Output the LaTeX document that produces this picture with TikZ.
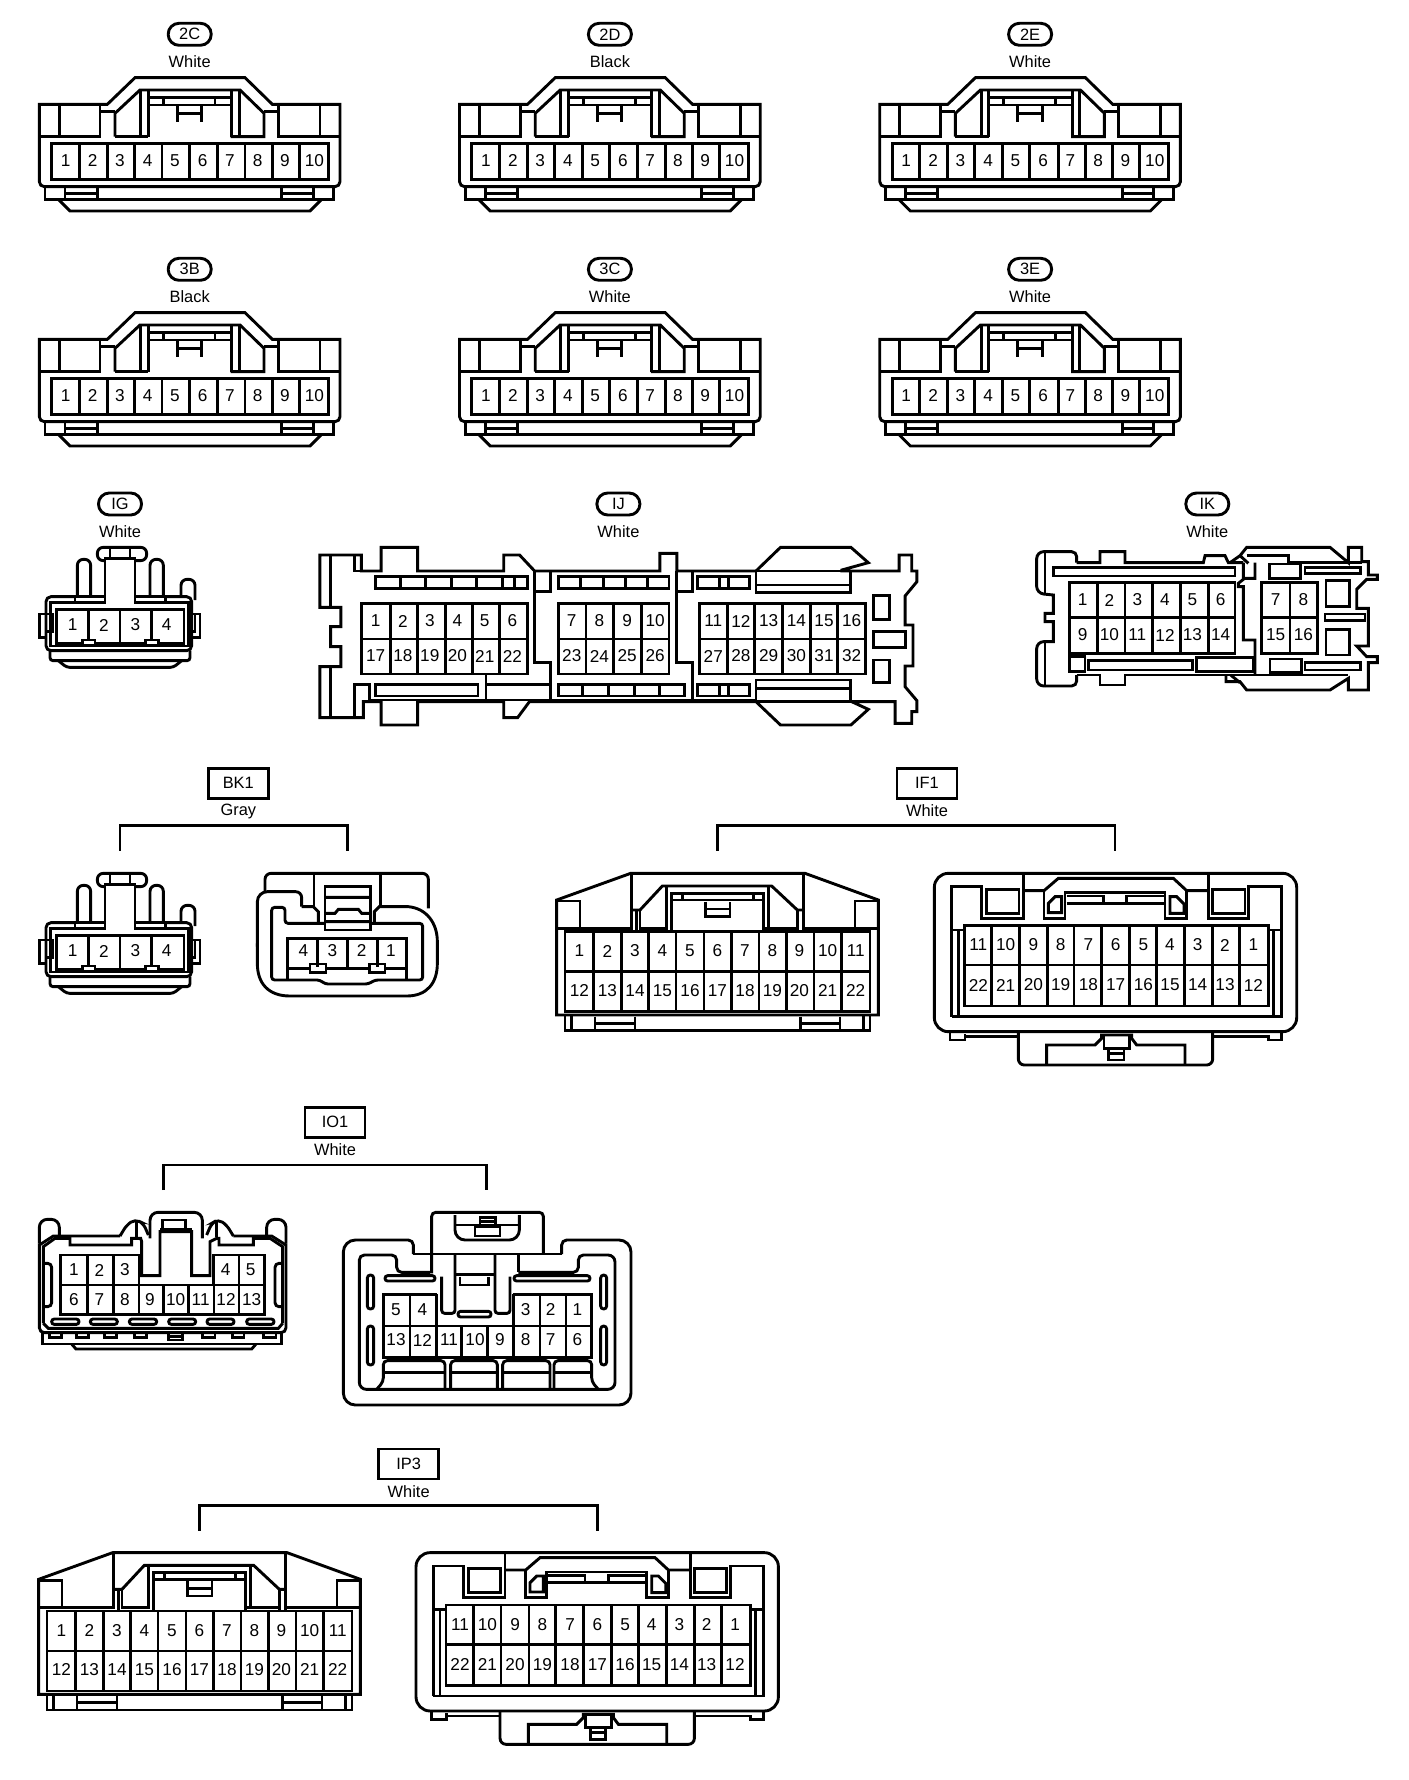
\documentclass[tikz,border=0pt]{standalone}
\usepackage{fontspec}
\setmainfont{Liberation Sans}
\newcommand{\pinrow}[2]{\foreach \x/\t in {#2}{\node[pinlab] (p\t) at (\x,#1) {\t};}}
\newcommand{\vbars}[3]{\foreach \x in {#3}{\draw (\x,#1) -- (\x,#2);}}
\newcommand{\conlabel}[6]{% name, style, x, y, id, colour
  \node[#2] (#1) at (#3,#4) {#5};
  \node[collab] (#1col) at (#3,#4+27.7) {#6};}
\newcommand{\bracket}[5]{% name,x1,x2,top,bottom
  \coordinate (#1l) at (#2,#5); \coordinate (#1r) at (#3,#5);
  \draw[line cap=butt] (#1l) -- (#2,#4) -- (#3,#4) -- (#1r);}
\tikzset{
  zm/.style={x=0.166667pt,y=-0.166667pt},
  zmij/.style={x=0.1977pt,y=-0.166667pt},
  pinlab/.style={font=\fontsize{8.6}{10}\selectfont,inner sep=0pt},
  collab/.style={font=\fontsize{8.2}{10}\selectfont,inner sep=0pt},
  pill/.style={draw,rounded corners=5.4pt,minimum width=21.5pt,minimum height=11pt,inner sep=0pt,font=\fontsize{8.2}{10}\selectfont},
  sqbox/.style={draw,minimum width=30pt,minimum height=15pt,inner sep=0pt,font=\fontsize{8.2}{10}\selectfont},
  pics/tenpin/.style={code={\begin{scope}[zm]
    \draw (58,283) -- (262,283) -- (345,203) -- (675,203) -- (757,283) -- (960,283) [rounded corners=2.5pt] -- (960,530) -- (58,530) [sharp corners] -- (58,283) -- cycle;
    \draw (118,283) -- (118,380) (58,380) -- (240,380) -- (240,283);
    \draw (243,305) -- (285,305);
    \draw (285,380) -- (285,310) -- (360,240) -- (660,240) -- (732,310) -- (732,380) -- (632,380);
    \draw (285,380) -- (385,380);
    \draw (362,240) -- (362,380) (385,240) -- (385,380);
    \draw (635,240) -- (635,380) (658,240) -- (658,380);
    \draw (732,305) -- (775,305) (775,283) -- (775,380) -- (960,380) (900,283) -- (900,380);
    \draw (385,262) -- (635,262) (385,285) -- (635,285) (430,262) -- (430,285) (585,262) -- (585,285);
    \draw (472,285) -- (472,335) (545,285) -- (545,335) (472,310) -- (545,310);
    \draw (95,400) rectangle (925,508);
    \vbars{400}{508}{178,262,343,426,508,593,675,757,838}
    \pinrow{452}{137/1,218/2,300/3,383/4,465/5,548/6,630/7,713/8,795/9,883/10}
    \draw (75,530) -- (75,568) -- (940,568) -- (940,530);
    \draw (135,535) -- (135,568) (232,535) -- (232,568) (135,550) -- (232,550);
    \draw (785,535) -- (785,568) (880,535) -- (880,568) (785,550) -- (880,550);
    \draw (115,568) -- (150,603) -- (870,603) -- (905,568);
  \end{scope}}},
  pics/fourpin/.style={code={\begin{scope}[zm]
    \draw[rounded corners=2.5pt] (78,320) -- (78,482) -- (515,482) -- (515,320) -- cycle;
    \draw (92,338) -- (92,468) -- (505,468) -- (505,338) -- cycle;
    \draw[rounded corners=1.5pt] (90,482) -- (90,512) -- (510,512) -- (510,482);
    \draw[rounded corners=1.5pt] (115,512) -- (140,532) -- (460,532) -- (485,512);
    \draw[rounded corners=3pt,fill=white] (232,172) rectangle (380,212);
    \draw (270,172) -- (270,205) (330,172) -- (330,205);
    \fill[white] (258,310) rectangle (342,346);
    \draw[fill=white] (255,338) -- (255,205) -- (345,205) -- (345,338);
    \fill[white] (260,310) rectangle (340,346);
    \draw[rounded corners=3pt] (172,320) -- (172,208) -- (212,208) -- (212,320);
    \draw[rounded corners=3pt] (390,320) -- (390,208) -- (430,208) -- (430,320);
    \draw[fill=white] (165,320) rectangle (255,338) (345,320) rectangle (437,338);
    \draw[rounded corners=3pt] (483,318) -- (483,268) -- (525,268) -- (525,330);
    \draw (110,358) rectangle (492,460);
    \vbars{358}{460}{205,300,395}
    \draw[fill=white] (187,450) rectangle (225,466) (377,450) rectangle (415,466);
    \pinrow{405}{158/1,252/2,346/3,440/4}
    \draw (78,372) -- (58,372) -- (58,442) -- (78,442) (78,372) rectangle (97,425);
    \draw (515,372) -- (540,372) -- (540,442) -- (515,442) (505,372) rectangle (525,425);
  \end{scope}}},
  pics/bkright/.style={code={\begin{scope}[zm]
    \draw[rounded corners=3pt] (845,440) -- (845,395) -- (760,395) [rounded corners=5pt] -- (712,395) -- (712,560);
    \draw (845,440) -- (880,440) -- (895,455) -- (895,490);
    \draw[rounded corners=3pt] (735,395) -- (735,340) -- (1225,340) -- (1225,445);
    \draw (882,345) -- (882,440) (1082,345) -- (1082,440);
    \draw (1063,490) -- (1063,455) -- (1078,440) -- (1165,440) .. controls (1220,445) and (1252,490) .. (1252,545) -- (1252,610) .. controls (1252,670) and (1220,708) .. (1160,708) -- (810,708) .. controls (745,708) and (712,670) .. (712,610) -- (712,550);
    \draw[rounded corners=1.5pt] (795,490) -- (795,442) -- (755,442) -- (755,660) -- (900,660) -- (915,672) -- (1045,672) -- (1065,660) -- (1208,660) -- (1208,490) -- cycle;
    \draw[fill=white] (915,380) rectangle (1052,510);
    \draw (915,412) -- (1052,412) (915,460) -- (945,460) -- (955,448) -- (1015,448) -- (1025,460) -- (1052,460) (915,485) -- (1052,485);
    \draw (803,660) -- (803,535) -- (1160,535) -- (1160,660);
    \vbars{535}{620}{893,982,1072}
    \draw (803,625) -- (870,625) (918,625) -- (1048,625) (1095,625) -- (1160,625);
    \draw (870,612) rectangle (918,638) (1048,612) rectangle (1095,638);
    \pinrow{572}{850/4,937/3,1025/2,1113/1}
  \end{scope}}},
  pics/wideplug/.style={code={\begin{scope}[zm]
    \draw (50,765) -- (50,420) -- (272,340) -- (795,340) -- (1015,420) -- (1015,765) -- cycle;
    \draw (50,423) -- (120,423) -- (120,505) (50,505) -- (275,505) -- (275,345);
    \draw (275,450) -- (300,450) -- (367,378) -- (695,378) -- (772,450) -- (790,450);
    \draw (290,450) -- (290,515) (300,450) -- (300,505) -- (380,505) -- (380,378);
    \draw (395,515) -- (395,400) -- (670,400) -- (670,515) (395,420) -- (670,420) (428,400) -- (428,420) (640,400) -- (640,420);
    \draw (685,378) -- (685,505) (672,505) -- (772,505) (772,450) -- (772,515) (790,345) -- (790,515);
    \draw (790,505) -- (1015,505) (945,505) -- (945,423) -- (1015,423);
    \draw (497,425) -- (497,470) -- (570,470) -- (570,425) (497,447) -- (570,447);
    \draw (75,515) rectangle (990,755) (75,635) -- (990,635);
    \vbars{515}{755}{160,245,325,408,492,575,657,740,822,905}
    \pinrow{573}{118/1,202/2,285/3,367/4,450/5,532/6,615/7,697/8,778/9,863/10,947/11}
    \pinrow{692}{118/12,202/13,285/14,367/15,450/16,532/17,615/18,697/19,778/20,863/21,947/22}
    \draw (75,765) -- (75,812) -- (990,812) -- (990,765) (95,765) -- (95,812) (970,765) -- (970,812);
    \draw (165,770) -- (165,812) (285,770) -- (285,812) (165,790) -- (285,790);
    \draw (782,770) -- (782,812) (900,770) -- (900,812) (782,790) -- (900,790);
  \end{scope}}},
  pics/widesock/.style={code={\begin{scope}[zm]
    \draw[rounded corners=7pt] (43,340) -- (1130,340) -- (1130,815) -- (43,815) -- cycle;
    \draw (95,770) -- (95,380) -- (185,380) -- (185,475) -- (310,475) -- (310,345);
    \draw (865,345) -- (865,475) -- (985,475) -- (985,380) -- (1085,380) -- (1085,770) -- (95,770);
    \draw (200,388) rectangle (297,460) (878,388) rectangle (975,460);
    \draw (310,392) -- (372,392) -- (415,355) -- (760,355) -- (800,392) -- (865,392);
    \draw (372,392) -- (372,475) -- (435,475) -- (435,398) -- (735,398) -- (735,475) -- (800,475) -- (800,392);
    \draw (385,458) -- (385,430) -- (405,410) -- (425,410) -- (425,458) -- cycle;
    \draw (750,410) -- (770,410) -- (792,432) -- (792,460) -- (750,460) -- cycle;
    \draw (440,408) -- (550,408) -- (550,430) -- (620,430) -- (620,408) -- (735,408) (440,430) -- (550,430) (620,430) -- (735,430);
    \draw (133,497) rectangle (1045,738) (133,615) -- (1045,615);
    \vbars{497}{738}{215,298,382,462,545,628,710,793,877,958}
    \pinrow{555}{175/11,257/10,340/9,422/8,505/7,587/6,670/5,750/4,833/3,915/2,1000/1}
    \pinrow{675}{175/22,257/21,340/20,422/19,505/18,587/17,670/16,750/15,833/14,915/13,1000/12}
    \draw (115,770) -- (115,510) -- (133,510) (95,510) -- (115,510);
    \draw (1060,770) -- (1060,510) -- (1045,510) (1060,510) -- (1085,510);
    \draw (90,815) -- (90,840) -- (135,840) -- (135,822) (135,830) -- (295,830);
    \draw[rounded corners=3pt] (295,815) -- (295,915) -- (878,915) -- (878,815);
    \draw (878,830) -- (1045,830) -- (1045,840) -- (1085,840) -- (1085,815);
    \draw (380,915) -- (380,855) -- (525,855) -- (545,835) -- (545,825) -- (635,825) -- (635,835) -- (650,855) -- (795,855) -- (795,915);
    \draw (552,825) -- (552,865) -- (628,865) -- (628,825);
    \draw (565,865) rectangle (612,900) (565,880) -- (612,880);
  \end{scope}}},
  pics/ijcon/.style={code={\begin{scope}[zmij]
    \draw (25,195) -- (130,195) -- (130,243) -- (180,243) -- (180,172) -- (272,172) -- (272,243) -- (490,243) -- (490,195) -- (530,195) -- (568,243) -- (885,243) -- (885,190) -- (928,190) -- (928,243) -- (1128,243) -- (1190,172) -- (1368,172) -- (1412,218) -- (1345,240) -- (1345,243) -- (1490,243) -- (1490,195) -- (1522,195) -- (1522,243) -- (1535,243) -- (1535,275) -- (1505,318) -- (1505,405) -- (1525,405) -- (1525,528) -- (1505,528) -- (1505,590) -- (1535,632) -- (1535,665) -- (1522,665) -- (1522,700) -- (1480,700) -- (1480,635) -- (1370,635) -- (1412,658) -- (1368,705) -- (1190,705) -- (1128,635) -- (555,635) -- (525,683) -- (490,683) -- (490,635) -- (272,635) -- (272,705) -- (180,705) -- (180,635) -- (135,635) -- (135,683) -- (25,683) -- (25,530) -- (78,530) -- (78,470) -- (52,470) -- (52,410) -- (78,410) -- (78,352) -- (25,352) -- cycle;
    \draw (52,195) -- (52,352) (52,530) -- (52,683);
    \draw (112,195) -- (112,243) -- (130,243) (112,635) -- (112,683) (112,635) -- (112,583) -- (150,583) -- (150,635);
    \draw (165,260) rectangle (550,295);
    \vbars{260}{295}{230,292,358,422,487,517}
    \draw (568,243) -- (568,517) -- (608,517) -- (608,635) (608,243) -- (608,305) -- (568,305);
    \draw (628,260) rectangle (908,295);
    \vbars{260}{295}{685,742,798,853}
    \draw (928,243) -- (928,517) -- (968,517) -- (968,635) (968,243) -- (968,305) -- (928,305);
    \draw (980,260) rectangle (1112,295);
    \vbars{260}{295}{1035,1058}
    \draw (1128,243) rectangle (1368,308) (1128,285) -- (1368,285);
    \draw (130,340) rectangle (550,552) (130,447) -- (550,447);
    \vbars{340}{552}{203,272,342,410,480}
    \pinrow{393}{166/1,235/2,303/3,373/4,442/5,512/6}
    \pinrow{498}{166/17,235/18,303/19,373/20,442/21,512/22}
    \draw (628,340) rectangle (908,552) (628,447) -- (908,447);
    \vbars{340}{552}{698,768,838}
    \pinrow{393}{662/7,732/8,802/9,873/10}
    \pinrow{498}{662/23,732/24,802/25,873/26}
    \draw (985,340) rectangle (1405,552) (985,447) -- (1405,447);
    \vbars{340}{552}{1055,1125,1195,1265,1335}
    \pinrow{393}{1020/11,1090/12,1160/13,1230/14,1300/15,1370/16}
    \pinrow{498}{1020/27,1090/28,1160/29,1230/30,1300/31,1370/32}
    \draw (1425,317) rectangle (1465,388) (1425,425) rectangle (1505,472) (1425,510) rectangle (1465,577);
    \draw (165,583) rectangle (425,618);
    \draw (445,552) -- (445,635) (445,583) -- (608,583);
    \draw (628,583) rectangle (948,618);
    \vbars{583}{618}{690,755,820,885}
    \draw (980,583) rectangle (1112,618);
    \vbars{583}{618}{1035,1058}
    \draw (1128,570) rectangle (1368,635) (1128,595) -- (1368,595);
    \draw (150,630) -- (1128,630);
  \end{scope}}},
  pics/ikcon/.style={code={\begin{scope}[zm]
    \draw[rounded corners=3.5pt] (75,185) -- (50,185) -- (50,310) [sharp corners] -- (100,315) -- (100,370) -- (75,370) -- (75,395) -- (100,395) -- (100,455) [rounded corners=3.5pt] -- (50,455) -- (50,588) -- (75,588);
    \draw[rounded corners=2.5pt] (75,185) -- (170,185) -- (170,218);
    \draw (170,218) -- (240,218) -- (240,185) -- (315,185) -- (315,218) -- (550,218) -- (555,197) -- (615,197) -- (625,218) -- (670,218);
    \draw[rounded corners=2.5pt] (75,588) -- (170,588) -- (170,555);
    \draw (170,555) -- (240,555) -- (240,585) -- (315,585) -- (315,555) -- (705,555);
    \draw (75,185) -- (75,315) (75,455) -- (75,588);
    \draw (100,232) rectangle (645,258);
    \draw (148,277) rectangle (645,490) (148,383) -- (645,383);
    \vbars{277}{490}{232,315,397,482,565}
    \pinrow{330}{188/1,268/2,352/3,435/4,517/5,602/6}
    \pinrow{435}{188/9,268/10,352/11,435/12,517/13,602/14}
    \draw (725,277) rectangle (893,490) (725,383) -- (893,383) (810,277) -- (810,490);
    \pinrow{330}{767/7,850/8}
    \pinrow{435}{767/15,850/16}
    \draw (630,218) -- (660,197) -- (685,220) (660,197) -- (680,172) -- (930,172) -- (985,218) -- (985,172) -- (1025,172) -- (1025,215) -- (1045,215) -- (1045,255) -- (1072,255) -- (1072,268) -- (1040,268) -- (1010,298) -- (1010,355) -- (1045,355) -- (1045,468) -- (1010,468) -- (1040,500) -- (1072,500) -- (1072,518) -- (1045,518) -- (1045,600) -- (985,600) -- (985,565) -- (930,600) -- (680,600) -- (660,575) -- (618,575) -- (618,555);
    \draw (632,555) -- (660,578);
    \draw (680,197) -- (805,197) -- (805,218) -- (1025,218);
    \draw (670,218) -- (670,268) -- (655,280) -- (655,290) -- (670,290) -- (670,450) -- (705,450) -- (705,555) (670,265) -- (705,265) -- (705,218);
    \draw (148,500) rectangle (195,545) (205,512) rectangle (518,540) (530,502) rectangle (700,545);
    \draw (748,222) rectangle (842,265) (855,232) rectangle (1022,250);
    \draw (918,272) rectangle (988,350) (915,372) rectangle (1035,392) (918,418) rectangle (988,495);
    \draw (750,507) rectangle (845,548) (855,518) rectangle (1022,540);
    \draw (705,555) -- (985,555);
  \end{scope}}},
  pics/ioleft/.style={code={\begin{scope}[zm]
    \draw[rounded corners=4pt] (118,378) -- (118,328) -- (58,328) -- (58,400);
    \draw[rounded corners=4pt] (740,378) -- (740,328) -- (798,328) -- (798,400);
    \draw[rounded corners=2.5pt] (58,400) -- (58,668) -- (798,668) -- (798,400);
    \draw (58,405) -- (100,378) -- (300,378) (798,405) -- (755,378) -- (640,378);
    \draw (70,640) -- (70,410) -- (105,385) -- (150,385) -- (150,405) -- (335,405) -- (335,385) -- (362,385) -- (365,395) -- (365,497) -- (420,497) -- (420,365) -- (515,365) -- (515,497) -- (570,497) -- (570,395) -- (590,385) -- (597,385) -- (597,405) -- (700,405) -- (700,385) -- (750,385) -- (788,410) -- (788,640);
    \draw (70,640) -- (85,655) -- (775,655) -- (788,640);
    \draw[rounded corners=2.5pt] (300,378) -- (320,345) -- (345,328) -- (370,340) -- (385,375);
    \draw[rounded corners=2.5pt] (560,375) -- (575,340) -- (595,328) -- (620,345) -- (640,378);
    \draw (350,332) -- (350,380) (590,332) -- (590,380);
    \draw[rounded corners=4pt] (390,385) -- (390,307) -- (547,307) -- (547,385);
    \draw (420,358) -- (515,358) (428,330) rectangle (497,358);
    \draw (357,525) -- (357,435) -- (122,435) -- (122,613) -- (733,613) -- (733,435) -- (580,435) -- (580,525) (122,525) -- (733,525);
    \vbars{435}{613}{203,280}
    \vbars{525}{613}{357,430,505,582}
    \draw (657,435) -- (657,613);
    \pinrow{480}{162/1,238/2,315/3,617/4,692/5}
    \pinrow{568}{162/6,238/7,315/8,390/9,467/10,542/11,618/12,695/13}
    \draw[rounded corners=2pt] (70,460) -- (95,460) -- (95,590) -- (70,590);
    \draw[rounded corners=2pt] (788,460) -- (765,460) -- (765,590) -- (788,590);
    \foreach \a/\b in {95/177,211/292,328/410,446/527,561/642,680/762}{\draw[rounded corners=1.3pt] (\a,627) rectangle (\b,643);}
    \draw (68,668) -- (68,702) -- (785,702) -- (785,668);
    \draw (155,702) -- (168,717) -- (695,717) -- (708,702);
    \foreach \a/\b in {88/125,170/205,253/290,343/380,548/585,638/672,730/768}{\draw (\a,668) -- (\a,682) -- (\b,682) -- (\b,668);}
    \draw (445,668) rectangle (488,690) (445,680) -- (488,680);
  \end{scope}}},
  pics/ioright/.style={code={\begin{scope}[zm]
    \draw[rounded corners=2.5pt] (250,432) -- (250,390) -- (110,390) [rounded corners=6pt] -- (40,390) -- (40,885) -- (903,885) -- (903,390) -- (830,390) [rounded corners=2.5pt] -- (695,390) -- (695,432);
    \draw (250,432) -- (695,432);
    \draw[rounded corners=2pt] (305,490) -- (305,307) -- (640,307) -- (640,432);
    \draw[rounded corners=5pt] (375,315) -- (375,390) -- (568,390) -- (568,315);
    \draw (375,345) -- (568,345) (435,350) rectangle (510,378) (450,322) rectangle (497,345) (450,335) -- (497,335);
    \draw[rounded corners=1.5pt] (335,500) -- (335,610) -- (375,610) -- (375,432);
    \draw[rounded corners=1.5pt] (495,432) -- (495,610) -- (540,610) -- (540,500);
    \draw (565,432) -- (565,487);
    \draw[rounded corners=2.5pt] (300,487) -- (200,487) -- (200,435) -- (88,435) [rounded corners=3.5pt] -- (88,838) -- (855,838) -- (855,435) [rounded corners=2.5pt] -- (745,435) -- (745,487) -- (565,487);
    \draw[rounded corners=1.3pt] (165,497) rectangle (315,513) (552,497) rectangle (780,513);
    \draw (375,493) -- (495,493) (390,500) -- (390,525) -- (475,525) -- (475,500);
    \draw[rounded corners=1.5pt] (112,495) rectangle (131,597) (112,648) rectangle (131,765) (812,495) rectangle (830,597) (812,648) rectangle (830,765);
    \draw (160,648) -- (160,553) -- (320,553) (550,553) -- (785,553) -- (785,742) -- (160,742) -- (160,648) -- (785,648);
    \vbars{553}{742}{240,320,550,630,708}
    \vbars{648}{742}{395,473}
    \pinrow{598}{198/5,277/4,587/3,662/2,742/1}
    \pinrow{690}{198/13,277/12,357/11,435/10,510/9,587/8,662/7,742/6}
    \draw[rounded corners=1.3pt] (384,604) rectangle (483,621);
    \draw[rounded corners=2pt] (140,838) -- (160,815) -- (160,752) -- (345,752) -- (345,838) (362,838) -- (362,752) -- (502,752) -- (502,838) (518,838) -- (518,752) -- (660,752) -- (660,838) (672,838) -- (672,752) -- (785,752) -- (785,815) -- (805,838);
    \draw (160,788) -- (345,788) (362,788) -- (502,788) (518,788) -- (660,788) (672,788) -- (785,788);
  \end{scope}}},
}
\begin{document}
\begin{tikzpicture}[x=0.5pt,y=-0.5pt,line width=1.45pt]
\useasboundingbox (0,0) rectangle (1408,1780);
\fill[white] (0,0) rectangle (1408,1780);
% row 1 and 2
\conlabel{l2C}{pill}{189.7}{34.3}{2C}{White}
\conlabel{l2D}{pill}{609.9}{34.3}{2D}{Black}
\conlabel{l2E}{pill}{1030.1}{34.3}{2E}{White}
\conlabel{l3B}{pill}{189.7}{269.3}{3B}{Black}
\conlabel{l3C}{pill}{609.9}{269.3}{3C}{White}
\conlabel{l3E}{pill}{1030.1}{269.3}{3E}{White}
\pic (c2C) at (20,10) {tenpin};
\pic (c2D) at (440.2,10) {tenpin};
\pic (c2E) at (860.4,10) {tenpin};
\pic (c3B) at (20,245) {tenpin};
\pic (c3C) at (440.2,245) {tenpin};
\pic (c3E) at (860.4,245) {tenpin};
% row 3
\conlabel{lIG}{pill}{120}{504}{IG}{White}
\conlabel{lIJ}{pill}{618.4}{504}{IJ}{White}
\conlabel{lIK}{pill}{1207.3}{504}{IK}{White}
\pic (cIG) at (20,490) {fourpin};
\pic (cIJ) at (310,490) {ijcon};
\pic (cIK) at (1020,490) {ikcon};
% BK1, IF1
\conlabel{lBK}{sqbox}{238.3}{783.3}{BK1}{Gray}
\bracket{bBK}{120}{347.3}{825.7}{850.7}
\pic (cBKa) at (20,816) {fourpin};
\pic (cBKb) at (20,760) {bkright};
\conlabel{lIF}{sqbox}{927}{783.3}{IF1}{White}
\bracket{bIF}{717.3}{1115}{825.7}{850.7}
\pic (cIFa) at (540,760) {wideplug};
\pic (cIFb) at (920,760) {widesock};
% IO1
\conlabel{lIO}{sqbox}{335}{1122.3}{IO1}{White}
\bracket{bIO}{163.3}{486.7}{1165}{1190}
\pic (cIOa) at (20,1110) {ioleft};
\pic (cIOb) at (330,1110) {ioright};
% IP3
\conlabel{lIP}{sqbox}{408.7}{1464}{IP3}{White}
\bracket{bIP}{199.3}{597.3}{1505.7}{1530.7}
\pic (cIPa) at (22,1439.3) {wideplug};
\pic (cIPb) at (401.7,1439.3) {widesock};
\end{tikzpicture}
\end{document}
